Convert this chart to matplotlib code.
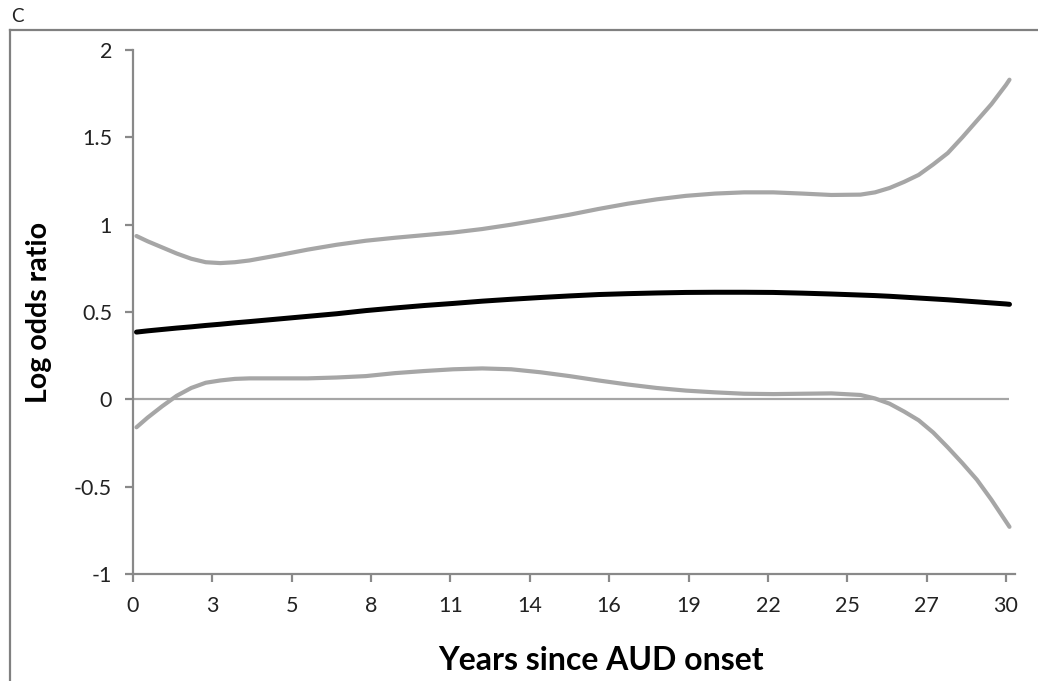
import numpy as np
import matplotlib
matplotlib.use("Agg")
import matplotlib.pyplot as plt
from matplotlib.lines import Line2D

plt.rcParams['font.family'] = ['Lato', 'DejaVu Sans']

# ---- data ----
years = [0.12, 0.5, 1, 1.5, 2, 2.5, 3, 3.5, 4, 5, 6, 7, 8, 9, 10, 11, 12, 13, 14, 15,
         16, 17, 18, 19, 20, 21, 22, 23, 24, 25, 25.5, 26, 26.5, 27, 27.5, 28, 28.5,
         29, 29.5, 30, 30.12]
estimate = [0.385, 0.392, 0.40, 0.408, 0.415, 0.423, 0.43, 0.438, 0.445, 0.46, 0.475,
            0.49, 0.508, 0.523, 0.537, 0.549, 0.562, 0.573, 0.583, 0.592, 0.60, 0.605,
            0.609, 0.612, 0.613, 0.613, 0.612, 0.608, 0.603, 0.597, 0.594, 0.590, 0.585,
            0.580, 0.575, 0.570, 0.564, 0.558, 0.552, 0.546, 0.544]
upper_ci = [0.935, 0.905, 0.87, 0.835, 0.805, 0.785, 0.78, 0.785, 0.795, 0.825, 0.857,
            0.885, 0.908, 0.925, 0.94, 0.955, 0.975, 1.0, 1.028, 1.057, 1.09, 1.12,
            1.145, 1.165, 1.178, 1.185, 1.185, 1.178, 1.17, 1.172, 1.185, 1.21, 1.245,
            1.285, 1.345, 1.41, 1.50, 1.595, 1.69, 1.80, 1.83]
lower_ci = [-0.16, -0.105, -0.04, 0.02, 0.065, 0.095, 0.108, 0.117, 0.12, 0.12, 0.12,
            0.125, 0.133, 0.15, 0.162, 0.172, 0.177, 0.172, 0.155, 0.133, 0.108, 0.085,
            0.065, 0.05, 0.04, 0.032, 0.03, 0.032, 0.034, 0.025, 0.005, -0.025, -0.07,
            -0.12, -0.19, -0.275, -0.365, -0.46, -0.575, -0.70, -0.73]
zero_x = [0.0, 30.12]
zero_y = [0.0, 0.0]

x_ticks = list(np.linspace(0, 30, 12))
x_tick_labels = ["0", "3", "5", "8", "11", "14", "16", "19", "22", "25", "27", "30"]
y_ticks = [-1, -0.5, 0, 0.5, 1, 1.5, 2]
y_tick_labels = ["-1", "-0.5", "0", "0.5", "1", "1.5", "2"]

W, H = 1038, 681
fig = plt.figure(figsize=(W / 100, H / 100), dpi=100)

left, right, top, bottom = 133, 1015, 50, 574
ax = fig.add_axes([left / W, 1 - bottom / H, (right - left) / W, (bottom - top) / H])

gray = '#A6A6A6'
axis_gray = '#898989'

ax.plot(zero_x, zero_y, color=gray, lw=1.6, solid_capstyle='butt', zorder=1)
ax.plot(years, upper_ci, color=gray, lw=3.0, solid_capstyle='round',
        solid_joinstyle='round', zorder=2)
ax.plot(years, lower_ci, color=gray, lw=3.0, solid_capstyle='round',
        solid_joinstyle='round', zorder=2)
ax.plot(years, estimate, color='black', lw=3.6, solid_capstyle='round',
        solid_joinstyle='round', zorder=3)

ax.set_xlim(0, 30.31)
ax.set_ylim(-1, 2)
ax.set_xticks(x_ticks)
ax.set_xticklabels(x_tick_labels)
ax.set_yticks(y_ticks)
ax.set_yticklabels(y_tick_labels)

for s in ['top', 'right']:
    ax.spines[s].set_visible(False)
for s in ['left', 'bottom']:
    ax.spines[s].set_color(axis_gray)
    ax.spines[s].set_linewidth(1.6)

ax.tick_params(axis='both', direction='out', length=6, width=1.6, color=axis_gray,
               labelsize=15.5, labelcolor='#222222')
ax.tick_params(axis='x', pad=10)
ax.tick_params(axis='y', pad=9)

ax.set_xlabel("Years since AUD onset", fontsize=23, fontweight='bold')
ax.xaxis.set_label_coords((601 - left) / (right - left), -(660 - bottom) / (bottom - top))
ax.xaxis.label.set_va('center')
ax.set_ylabel("Log odds ratio", fontsize=20.5, fontweight='bold', labelpad=16)

# outer frame (left and top edges)
fig.add_artist(Line2D([10 / W, 10 / W], [0, 1 - 30 / H], color='#808080', lw=1.6,
                      transform=fig.transFigure))
fig.add_artist(Line2D([10 / W, 1], [1 - 30 / H, 1 - 30 / H], color='#808080', lw=1.6,
                      transform=fig.transFigure))
fig.text(11 / W, 1 - 16 / H, "C", fontsize=13.5, va='center', ha='left', color='#222222')

fig.savefig("out.png", dpi=100)
